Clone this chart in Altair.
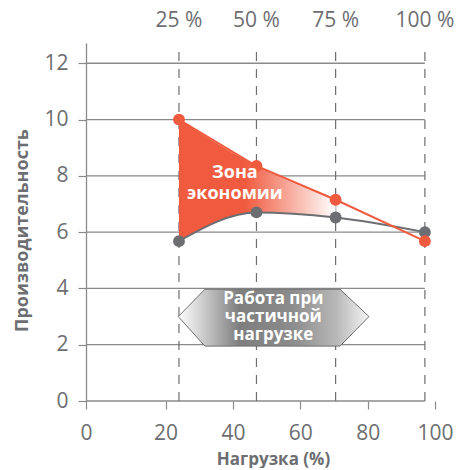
import altair as alt
import pandas as pd

# ---- data ----
loads = [24, 47, 70.5, 97]
red_vals = [10.0, 8.35, 7.15, 5.68]
gray_vals = [5.68, 6.7, 6.52, 6.0]
top_labels = ["25 %", "50 %", "75 %", "100 %"]
grid_levels = [2, 4, 6, 8, 10, 12]
x_ticks = [-3.6, 20, 40, 60, 80, 100]
y_ticks = [0, 2, 4, 6, 8, 10, 12]
zone_lines = ["Зона", "экономии"]
zone_x = [40.6, 40.6]
zone_y = [8.11, 7.35]
arrow_lines = ["Работа при", "частичной", "нагрузке"]
arrow_text_x = [52, 52, 52]
arrow_text_y = [3.62, 2.99, 2.34]
hex_x = [23.8, 31.7, 71.8, 80.4]
hex_top = [3.0, 3.97, 3.97, 3.0]
hex_bot = [3.0, 1.95, 1.95, 3.0]

RED = "#F05A3E"
GRAY = "#6D6E71"
LINE = "#8A8A8A"
FONT = "Open Sans"

xdom = [-3.6, 100]
ydom = [0, 12.72]

series = pd.DataFrame({"x": loads, "red": red_vals, "gray": gray_vals})
zone_df = series.iloc[:3]
grid_df = pd.DataFrame({"y": grid_levels, "x0": xdom[0], "x1": loads[-1]})
base_df = pd.DataFrame({"y": [0], "x0": [xdom[0]], "x1": [loads[-1]]})
vdf = pd.DataFrame({"x": loads, "y0": 0, "y1": 12.58, "lab": top_labels})
zone_txt = pd.DataFrame({"x": zone_x, "y": zone_y, "t": zone_lines})
arrow_txt = pd.DataFrame({"x": arrow_text_x, "y": arrow_text_y, "t": arrow_lines})
hex_df = pd.DataFrame({"x": hex_x, "top": hex_top, "bot": hex_bot})

xs = alt.Scale(domain=xdom, nice=False, zero=False)
ys = alt.Scale(domain=ydom, nice=False, zero=False)

x_axis = alt.Axis(
    values=x_ticks, labelExpr="datum.value < 0 ? '0' : datum.label",
    domain=False, grid=False, tickSize=8, tickColor=LINE, tickWidth=1.2,
    labelFlush=False, labelPadding=13, labelFontSize=21, labelColor=GRAY,
    labelFont=FONT, title="Нагрузка (%)", titleX=187, titleY=63,
    titleBaseline="alphabetic", titleAlign="center", titleFontSize=17,
    titleFont=FONT, titleFontWeight="bold", titleColor=GRAY,
)
y_axis = alt.Axis(
    values=y_ticks, domain=True, domainColor=LINE, domainWidth=1.3,
    grid=False, tickSize=8, tickColor=LINE, tickWidth=1.2,
    labelPadding=10, labelFontSize=21, labelColor=GRAY, labelFont=FONT,
    title="Производительность", titleX=-64, titleY=187,
    titleBaseline="middle", titleAlign="center", titleFontSize=18,
    titleFont=FONT, titleFontWeight="bold", titleColor=GRAY,
)

grid = alt.Chart(grid_df).mark_rule(color=LINE, strokeWidth=1.3).encode(
    x=alt.X("x0:Q", scale=xs, axis=x_axis), x2="x1:Q",
    y=alt.Y("y:Q", scale=ys, axis=y_axis),
)
baseline = alt.Chart(base_df).mark_rule(color=LINE, strokeWidth=1.3).encode(
    x=alt.X("x0:Q", scale=xs), x2="x1:Q", y=alt.Y("y:Q", scale=ys)
)
vlines = alt.Chart(vdf).mark_rule(color=GRAY, strokeWidth=1.2, strokeDash=[9, 8]).encode(
    x=alt.X("x:Q", scale=xs), y=alt.Y("y0:Q", scale=ys), y2="y1:Q"
)
toplabs = alt.Chart(vdf).mark_text(
    fontSize=21, color=GRAY, font=FONT, baseline="middle", align="center"
).encode(x=alt.X("x:Q", scale=xs), y=alt.value(-22), text="lab:N")

zone = alt.Chart(zone_df).mark_area(
    interpolate="monotone",
    fill=alt.Gradient(
        gradient="linear",
        stops=[
            alt.GradientStop(color=RED, offset=0),
            alt.GradientStop(color=RED, offset=0.42),
            alt.GradientStop(color="#FFFFFF", offset=1),
        ],
        x1=0, x2=1, y1=0, y2=0,
    ),
).encode(x=alt.X("x:Q", scale=xs), y=alt.Y("red:Q", scale=ys), y2="gray:Q")

gray_line = alt.Chart(series).mark_line(color=GRAY, strokeWidth=2, interpolate="monotone").encode(
    x=alt.X("x:Q", scale=xs), y=alt.Y("gray:Q", scale=ys)
)
red_line = alt.Chart(series).mark_line(color=RED, strokeWidth=2).encode(
    x=alt.X("x:Q", scale=xs), y=alt.Y("red:Q", scale=ys)
)
gray_pts = alt.Chart(series).mark_circle(color=GRAY, size=140, opacity=1).encode(
    x=alt.X("x:Q", scale=xs), y=alt.Y("gray:Q", scale=ys)
)
red_pts = alt.Chart(series).mark_circle(color=RED, size=140, opacity=1).encode(
    x=alt.X("x:Q", scale=xs), y=alt.Y("red:Q", scale=ys)
)
zone_text = alt.Chart(zone_txt).mark_text(
    fontSize=18, fontWeight="bold", color="white", font=FONT, baseline="middle"
).encode(x=alt.X("x:Q", scale=xs), y=alt.Y("y:Q", scale=ys), text="t:N")

hexagon = alt.Chart(hex_df).mark_area(
    stroke=GRAY, strokeWidth=1,
    fill=alt.Gradient(
        gradient="linear",
        stops=[
            alt.GradientStop(color="#FFFFFF", offset=0),
            alt.GradientStop(color="#D0D0D0", offset=0.12),
            alt.GradientStop(color="#7E7E7E", offset=0.32),
            alt.GradientStop(color="#8C8C8C", offset=0.6),
            alt.GradientStop(color="#B8B8B8", offset=0.83),
            alt.GradientStop(color="#F4F4F4", offset=1),
        ],
        x1=0, x2=1, y1=0, y2=0,
    ),
).encode(x=alt.X("x:Q", scale=xs), y=alt.Y("top:Q", scale=ys), y2="bot:Q")
arrow_text = alt.Chart(arrow_txt).mark_text(
    fontSize=17, fontWeight="bold", color="white", font=FONT, baseline="middle"
).encode(x=alt.X("x:Q", scale=xs), y=alt.Y("y:Q", scale=ys), text="t:N")

chart = alt.layer(
    grid, baseline, vlines, zone, gray_line, red_line, gray_pts, red_pts,
    zone_text, hexagon, arrow_text, toplabs,
).properties(
    width=349, height=358,
    autosize=alt.AutoSizeParams(type="none"),
    padding={"left": 78, "top": 35, "right": 21, "bottom": 67},
    background="white",
).configure_view(stroke=None)

chart.save("out.html", embed_options={"renderer": "svg", "actions": False})
